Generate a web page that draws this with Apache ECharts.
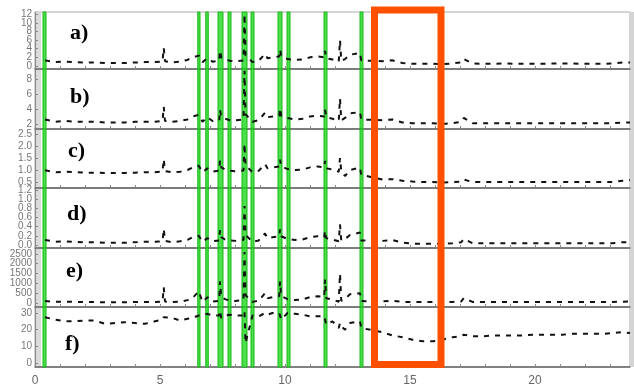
<!DOCTYPE html>
<html>
<head>
<meta charset="utf-8">
<script src="https://cdn.jsdelivr.net/npm/echarts@6/dist/echarts.min.js"></script>
<style>
  html, body { margin: 0; padding: 0; background: #fff; }
  #chart { width: 634px; height: 390px; }
</style>
</head>
<body>
<div id="chart"></div>
<script>
// sample positions (time axis), shared by every panel
const xs = [0.4,0.8,1.2,1.6,2.0,2.4,2.8,3.2,3.6,4.0,4.4,4.8,
  5.1,5.15,5.2,5.5,5.8,6.1,6.3,6.55,6.7,6.9,7.1,7.37,7.4,7.45,7.6,7.8,8.0,
  8.34,8.38,8.42,8.7,8.95,9.2,9.3,9.5,9.77,9.8,9.85,10.1,10.4,10.7,11.0,11.3,11.57,11.6,11.65,11.9,12.15,12.2,12.25,12.4,12.6,13.0,13.05,
  13.9,14.3,14.7,15.1,15.5,15.9,16.3,16.7,17.05,17.15,17.5,
  17.9,18.3,18.7,19.1,19.5,19.9,20.3,20.7,21.1,21.5,21.9,22.3,22.7,23.1,23.5,23.8];

const aVals = [1.3,0.9,1.0,0.9,0.8,0.8,0.7,0.7,0.7,0.8,0.9,0.9,
  1.0,4.2,1.1,0.8,1.0,1.4,2.0,2.4,0.9,1.8,1.0,1.2,3.6,2.0,1.5,1.2,1.1,
  1.3,12,2.5,0.9,1.2,2.8,1.8,2.0,2.2,3.8,2.2,1.6,1.4,1.5,2.0,2.2,2.0,3.5,1.8,1.5,1.0,6.0,1.2,1.6,2.6,3.0,1.3,
  1.1,1.3,0.7,0.5,0.5,0.5,0.4,0.6,0.8,1.6,0.6,
  0.5,0.5,0.6,0.5,0.5,0.5,0.5,0.6,0.6,0.6,0.5,0.5,0.5,0.6,0.8,0.8];
const bVals = [2.6,2.3,2.4,2.3,2.3,2.3,2.2,2.2,2.2,2.3,2.3,2.3,
  2.4,4.3,2.4,2.3,2.4,2.6,3.0,3.2,2.3,2.9,2.4,2.5,3.9,3.0,2.7,2.5,2.5,
  2.6,9.1,3.3,2.3,2.5,3.5,2.9,3.0,3.1,4.1,3.1,2.8,2.6,2.7,3.0,3.1,3.0,3.9,2.9,2.7,2.4,5.4,2.5,2.8,3.4,3.6,2.6,
  2.5,2.6,2.2,2.1,2.1,2.1,2.0,2.1,2.3,2.8,2.1,
  2.1,2.1,2.1,2.1,2.1,2.1,2.1,2.1,2.1,2.1,2.1,2.1,2.1,2.1,2.2,2.2];
const cVals = [0.99,0.91,0.93,0.91,0.89,0.89,0.88,0.88,0.88,0.89,0.91,0.91,
  0.93,1.45,0.95,0.9,0.93,1.0,1.1,1.18,0.91,1.07,0.93,0.97,1.4,1.11,1.02,0.97,0.95,
  0.98,2.1,1.2,0.91,0.97,1.25,1.07,1.11,1.15,1.43,1.15,1.04,1.0,1.02,1.11,1.15,1.11,1.38,1.07,1.02,0.93,1.5,0.95,0.75,1.0,1.1,0.8,
  0.6,0.62,0.55,0.52,0.5,0.5,0.48,0.5,0.52,0.6,0.5,
  0.5,0.5,0.5,0.5,0.5,0.5,0.5,0.5,0.5,0.5,0.5,0.5,0.5,0.5,0.55,0.58];
const dVals = [0.11,0.07,0.08,0.07,0.06,0.06,0.05,0.05,0.05,0.06,0.07,0.07,
  0.08,0.35,0.09,0.06,0.08,0.11,0.17,0.2,0.07,0.15,0.08,0.1,0.32,0.17,0.12,0.1,0.09,
  0.11,0.85,0.22,0.07,0.1,0.25,0.15,0.17,0.19,0.34,0.19,0.13,0.11,0.12,0.17,0.19,0.17,0.31,0.15,0.12,0.08,0.45,0.1,0.13,0.22,0.27,0.1,
  0.09,0.11,0.05,0.03,0.03,0.03,0.02,0.04,0.06,0.13,0.04,
  0.04,0.04,0.04,0.04,0.04,0.04,0.04,0.04,0.04,0.04,0.04,0.04,0.04,0.04,0.06,0.06];
const eVals = [100,60,70,60,50,50,40,40,40,50,60,60,
  70,800,80,50,70,150,250,600,60,300,70,120,1100,300,200,120,100,
  150,2600,400,60,120,500,250,300,350,1100,350,200,150,180,300,350,300,1200,250,180,70,1500,120,200,450,500,100,
  90,120,60,50,50,50,40,60,80,250,60,
  60,60,60,60,60,60,60,60,60,60,60,60,60,60,70,80];
const fVals = [27.5,26,25,25,25.5,25.5,23.5,24,24.5,24,23.5,25,
  26,27.5,26.5,27,25.5,26.5,27,28.5,29,29.5,28.5,28.5,31.5,27,28.5,29,28.5,
  28.5,31,12,28.5,28,30,29,30,30,31,26,30,29.5,29,28,28,28,29,23,25,21,24,22,20,24,25,21,
  18.5,16.5,15.5,14,13,13,14,15.5,16,17,16,
  16,16.5,16.5,16.5,16.5,17,17,17,17,17.5,17.5,17.5,17.5,18,18.5,18];

// green highlighted intervals [start, end]
const greenBands = [[0.32,0.44],[6.51,6.6],[6.83,6.93],[7.32,7.52],[7.72,7.84],
  [8.28,8.48],[8.64,8.76],[9.72,9.88],[10.08,10.2],[11.56,11.68],[13.0,13.12]];

// tick labels
const xLabels = [0,5,10,15,20];
const xTicks = [0,1,2,3,4,5,6,7,8,9,10,11,12,13,14,15,16,17,18,19,20,21,22,23];
const aLabels = [0,2,4,6,8,10,12];
const bLabels = [2,4,6,8];
const cLabels = [0.5,1.0,1.5,2.0,2.5];
const dLabels = [0,0.2,0.4,0.6,0.8,1.0,1.2];
const eLabels = [0,500,1000,1500,2000,2500];
const fLabels = [0,10,20,30];
const panelNames = ['a)','b)','c)','d)','e)','f)'];

const panels = [
  { vals: aVals, labels: aLabels, min: -0.7, max: 12.5, top: 12, h: 57, dec: 0, lx: 70, ly: 33 },
  { vals: bVals, labels: bLabels, min: 1.33, max: 9.33, top: 69, h: 60, dec: 0, lx: 70, ly: 97 },
  { vals: cVals, labels: cLabels, min: 0.25, max: 2.71, top: 129, h: 59, dec: 1, lx: 68, ly: 151 },
  { vals: dVals, labels: dLabels, min: -0.065, max: 1.24, top: 188, h: 60, dec: 1, lx: 67, ly: 214 },
  { vals: eVals, labels: eLabels, min: -200, max: 2800, top: 248, h: 59, dec: 0, lx: 66, ly: 271 },
  { vals: fVals, labels: fLabels, min: -2.4, max: 33.6, top: 307, h: 60, dec: 0, lx: 65, ly: 344 }
];

const chart = echarts.init(document.getElementById('chart'), null, { renderer: 'canvas' });

// labels are crowded, so each panel gets two stacked y axes (even / odd labels)
// to keep ECharts from dropping overlapping ones
const yAxes = [];
panels.forEach((p, i) => {
  [0, 1].forEach(parity => {
    const vals = p.labels.filter((_, k) => k % 2 === parity);
    yAxes.push({
      type: 'value', gridIndex: i, min: p.min, max: p.max, position: 'left',
      splitLine: { show: false },
      axisLine: { show: parity === 0, onZero: false, lineStyle: { color: '#888' } },
      axisTick: { show: true, inside: true, length: 3, customValues: vals, lineStyle: { color: '#888' } },
      axisLabel: {
        customValues: vals, color: '#777', fontSize: 10, fontFamily: 'Liberation Sans',
        margin: 3, showMinLabel: true, showMaxLabel: true,
        formatter: v => v.toFixed(p.dec)
      }
    });
  });
});

const option = {
  animation: false,
  backgroundColor: '#fff',
  grid: panels.map(p => ({
    left: 35, right: 4, top: p.top, height: p.h,
    show: true, borderColor: '#aaa', borderWidth: 1
  })),
  xAxis: panels.map((p, i) => ({
    type: 'value', gridIndex: i, min: 0, max: 23.8,
    splitLine: { show: false },
    axisLine: { show: true, onZero: false, lineStyle: { color: '#666', width: 1.5 } },
    axisTick: { show: true, inside: true, length: 3, customValues: xTicks, lineStyle: { color: '#888' } },
    axisLabel: {
      show: i === panels.length - 1, customValues: xLabels,
      color: '#666', fontSize: 12, fontFamily: 'Liberation Sans', margin: 8
    }
  })),
  yAxis: yAxes,
  series: panels.map((p, i) => ({
    type: 'line', xAxisIndex: i, yAxisIndex: 2 * i,
    data: xs.map((x, k) => [x, p.vals[k]]),
    showSymbol: false,
    lineStyle: { color: '#111', width: 2, type: [5, 6] },
    z: 3,
    markArea: {
      silent: true,
      itemStyle: { color: '#4be04b', borderColor: '#16b816', borderWidth: 1 },
      data: greenBands.map(b => [{ xAxis: b[0] }, { xAxis: b[1] }])
    }
  })),
  graphic: [
    { type: 'rect', shape: { x: 36, y: 12, width: 5, height: 355 }, style: { fill: '#dadada' }, z: 0, silent: true },
    { type: 'rect', shape: { x: 629, y: 12, width: 5, height: 355 }, style: { fill: '#d4d4d4' }, z: 0, silent: true },
    { type: 'rect', shape: { x: 374.5, y: 10, width: 66.5, height: 354.5 },
      style: { fill: null, stroke: '#ff5000', lineWidth: 7 }, z: 100, silent: true }
  ].concat(panels.map((p, i) => ({
    type: 'text', x: p.lx, y: p.ly, z: 50, silent: true,
    style: { text: panelNames[i], font: 'bold 22px "Liberation Serif"', fill: '#000', verticalAlign: 'middle' }
  })))
};

chart.setOption(option);
</script>
</body>
</html>
